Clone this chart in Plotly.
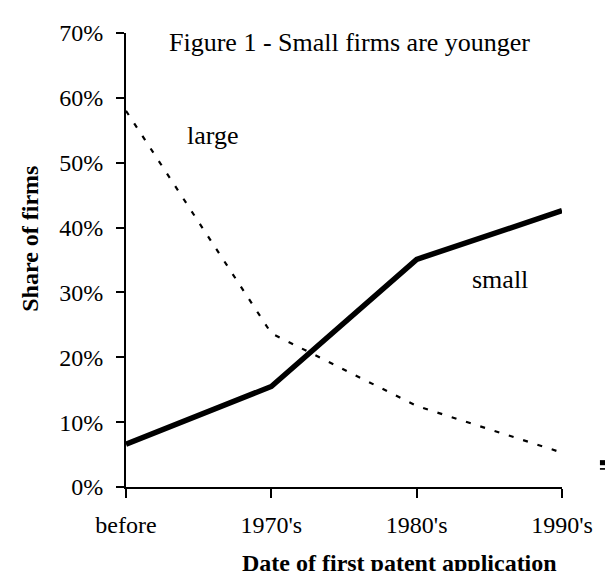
import plotly.graph_objects as go

categories = ["before", "1970's", "1980's", "1990's"]
small_share = [0.066, 0.155, 0.351, 0.426]
large_share = [0.580, 0.237, 0.125, 0.053]
y_ticks = [0, 0.1, 0.2, 0.3, 0.4, 0.5, 0.6, 0.7]

FONT = "Liberation Serif"

fig = go.Figure()
fig.add_trace(go.Scatter(x=categories, y=large_share, mode="lines", name="large",
                         line=dict(color="black", width=2.2, dash="5px,10px")))
fig.add_trace(go.Scatter(x=categories, y=small_share, mode="lines", name="small",
                         line=dict(color="black", width=5.5)))

fig.update_layout(
    width=613, height=571,
    margin=dict(l=118, r=59, t=23, b=92),
    paper_bgcolor="white", plot_bgcolor="white",
    showlegend=False,
    font=dict(family=FONT, size=24, color="black"),
    xaxis=dict(type="category", range=[0, 3], showgrid=False, zeroline=False,
               showline=True, linecolor="black", linewidth=2,
               ticks="outside", ticklen=9, tickwidth=2, tickcolor="black",
               tickfont=dict(family=FONT, size=24), ticklabelstandoff=6),
    yaxis=dict(range=[0, 0.7], tickvals=y_ticks, tickformat=".0%", showgrid=False,
               zeroline=False, showline=True, linecolor="black", linewidth=2,
               ticks="outside", ticklen=8, tickwidth=2, tickcolor="black",
               tickfont=dict(family=FONT, size=24), ticklabelstandoff=8),
    annotations=[
        dict(text="Figure 1 - Small firms are younger", xref="paper", yref="paper",
             x=0.513, y=0.98, xanchor="center", yanchor="middle", showarrow=False,
             font=dict(family=FONT, size=26)),
        dict(text="large", xref="paper", yref="paper", x=0.2, y=0.774,
             xanchor="center", yanchor="middle", showarrow=False,
             font=dict(family=FONT, size=26)),
        dict(text="small", xref="paper", yref="paper", x=0.858, y=0.457,
             xanchor="center", yanchor="middle", showarrow=False,
             font=dict(family=FONT, size=26)),
        dict(text="<b>Share of firms</b>", xref="paper", yref="paper", x=-0.221, y=0.546,
             xanchor="center", yanchor="middle", textangle=-90, showarrow=False,
             font=dict(family=FONT, size=24)),
        dict(text="<b>Date of first patent application</b>", xref="paper", yref="paper",
             x=0.628, y=-0.134, xanchor="center", yanchor="top", showarrow=False,
             font=dict(family=FONT, size=24)),
    ],
    shapes=[
        dict(type="rect", xref="paper", yref="paper", x0=1.087, x1=1.14, y0=0.048, y1=0.0592,
             fillcolor="black", line=dict(width=0)),
        dict(type="rect", xref="paper", yref="paper", x0=1.087, x1=1.14, y0=0.038, y1=0.0417,
             fillcolor="black", line=dict(width=0)),
    ],
)

fig.write_html("out.html")
